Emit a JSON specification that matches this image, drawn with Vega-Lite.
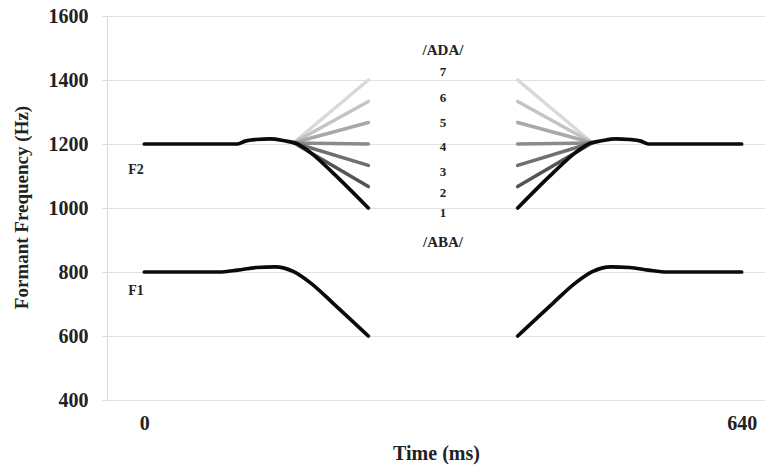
{
  "$schema": "https://vega.github.io/schema/vega-lite/v6.json",
  "autosize": {"type": "none"},
  "padding": {"left": 107, "top": 16, "right": 0, "bottom": 68},
  "width": 658,
  "height": 384,
  "config": {
    "view": {"stroke": null},
    "font": "Liberation Serif",
    "text": {"font": "Liberation Serif", "fontWeight": "bold", "color": "#222"}
  },
  "datasets": {
    "lines": [
      {"s":"F2","k":"7","g":"L","t":160,"f":1204},{"s":"F2","k":"7","g":"L","t":240,"f":1400},
      {"s":"F2","k":"7","g":"R","t":480,"f":1204},{"s":"F2","k":"7","g":"R","t":400,"f":1400},
      {"s":"F2","k":"6","g":"L","t":160,"f":1204},{"s":"F2","k":"6","g":"L","t":240,"f":1333},
      {"s":"F2","k":"6","g":"R","t":480,"f":1204},{"s":"F2","k":"6","g":"R","t":400,"f":1333},
      {"s":"F2","k":"5","g":"L","t":160,"f":1204},{"s":"F2","k":"5","g":"L","t":240,"f":1267},
      {"s":"F2","k":"5","g":"R","t":480,"f":1204},{"s":"F2","k":"5","g":"R","t":400,"f":1267},
      {"s":"F2","k":"4","g":"L","t":160,"f":1203},{"s":"F2","k":"4","g":"L","t":240,"f":1200},
      {"s":"F2","k":"4","g":"R","t":480,"f":1203},{"s":"F2","k":"4","g":"R","t":400,"f":1200},
      {"s":"F2","k":"3","g":"L","t":160,"f":1204},{"s":"F2","k":"3","g":"L","t":240,"f":1133},
      {"s":"F2","k":"3","g":"R","t":480,"f":1204},{"s":"F2","k":"3","g":"R","t":400,"f":1133},
      {"s":"F2","k":"2","g":"L","t":160,"f":1204},{"s":"F2","k":"2","g":"L","t":240,"f":1067},
      {"s":"F2","k":"2","g":"R","t":480,"f":1204},{"s":"F2","k":"2","g":"R","t":400,"f":1067},
      {"s":"F2","k":"1","g":"L","t":0,"f":1200},{"s":"F2","k":"1","g":"L","t":100,"f":1200},{"s":"F2","k":"1","g":"L","t":108,"f":1209},{"s":"F2","k":"1","g":"L","t":120,"f":1214},{"s":"F2","k":"1","g":"L","t":135,"f":1216},{"s":"F2","k":"1","g":"L","t":150,"f":1210},{"s":"F2","k":"1","g":"L","t":163,"f":1202},{"s":"F2","k":"1","g":"L","t":178,"f":1173},{"s":"F2","k":"1","g":"L","t":202,"f":1110},{"s":"F2","k":"1","g":"L","t":240,"f":1000},
      {"s":"F2","k":"1","g":"R","t":640,"f":1200},{"s":"F2","k":"1","g":"R","t":540,"f":1200},{"s":"F2","k":"1","g":"R","t":532,"f":1209},{"s":"F2","k":"1","g":"R","t":520,"f":1214},{"s":"F2","k":"1","g":"R","t":505,"f":1216},{"s":"F2","k":"1","g":"R","t":490,"f":1210},{"s":"F2","k":"1","g":"R","t":477,"f":1202},{"s":"F2","k":"1","g":"R","t":462,"f":1173},{"s":"F2","k":"1","g":"R","t":438,"f":1110},{"s":"F2","k":"1","g":"R","t":400,"f":1000},
      {"s":"F1","k":"1","g":"L","t":0,"f":800},{"s":"F1","k":"1","g":"L","t":80,"f":800},{"s":"F1","k":"1","g":"L","t":100,"f":806},{"s":"F1","k":"1","g":"L","t":120,"f":814},{"s":"F1","k":"1","g":"L","t":140,"f":816},{"s":"F1","k":"1","g":"L","t":150,"f":812},{"s":"F1","k":"1","g":"L","t":160,"f":801},{"s":"F1","k":"1","g":"L","t":178,"f":766},{"s":"F1","k":"1","g":"L","t":202,"f":703},{"s":"F1","k":"1","g":"L","t":240,"f":600},
      {"s":"F1","k":"1","g":"R","t":640,"f":800},{"s":"F1","k":"1","g":"R","t":560,"f":800},{"s":"F1","k":"1","g":"R","t":540,"f":806},{"s":"F1","k":"1","g":"R","t":520,"f":814},{"s":"F1","k":"1","g":"R","t":500,"f":816},{"s":"F1","k":"1","g":"R","t":490,"f":812},{"s":"F1","k":"1","g":"R","t":480,"f":801},{"s":"F1","k":"1","g":"R","t":462,"f":766},{"s":"F1","k":"1","g":"R","t":438,"f":703},{"s":"F1","k":"1","g":"R","t":400,"f":600}
    ],
    "labels": [
      {"txt":"F2","t":-9,"f":1119,"kind":"f"},
      {"txt":"F1","t":-9,"f":742,"kind":"f"},
      {"txt":"/ADA/","t":320,"f":1494,"kind":"v"},
      {"txt":"/ABA/","t":320,"f":895,"kind":"v"},
      {"txt":"7","t":320,"f":1426,"kind":"n"},
      {"txt":"6","t":320,"f":1343,"kind":"n"},
      {"txt":"5","t":320,"f":1267,"kind":"n"},
      {"txt":"4","t":320,"f":1192,"kind":"n"},
      {"txt":"3","t":320,"f":1113,"kind":"n"},
      {"txt":"2","t":320,"f":1046,"kind":"n"},
      {"txt":"1","t":320,"f":983,"kind":"n"}
    ]
  },
  "encoding": {
    "x": {
      "field": "t", "type": "quantitative",
      "scale": {"domain": [-40, 665], "nice": false, "zero": false},
      "axis": {
        "values": [0, 640], "format": "d", "grid": false, "domain": false, "ticks": false,
        "labelFont": "Liberation Serif", "labelFontWeight": "bold", "labelFontSize": 20, "labelColor": "#222",
        "labelPadding": 13,
        "title": "Time (ms)", "titleFont": "Liberation Serif", "titleFontWeight": "bold", "titleFontSize": 20, "titleColor": "#222",
        "titleY": 53, "titleBaseline": "middle"
      }
    },
    "y": {
      "field": "f", "type": "quantitative",
      "scale": {"domain": [400, 1600], "nice": false, "zero": false},
      "axis": {
        "values": [400, 600, 800, 1000, 1200, 1400, 1600], "format": "d",
        "grid": true, "gridColor": "#e2e2e2", "gridWidth": 1,
        "domain": true, "domainColor": "#dadada", "domainWidth": 1,
        "ticks": true, "tickSize": 5, "tickColor": "#dadada",
        "labelFont": "Liberation Serif", "labelFontWeight": "bold", "labelFontSize": 20, "labelColor": "#222",
        "labelPadding": 14,
        "title": "Formant Frequency (Hz)", "titleFont": "Liberation Serif", "titleFontWeight": "bold", "titleFontSize": 19, "titleColor": "#222",
        "titleX": -86, "titleY": 191, "titleAngle": -90, "titleAlign": "center", "titleBaseline": "middle"
      }
    }
  },
  "layer": [
    {
      "data": {"name": "lines"},
      "transform": [{"filter": "datum.k != '1'"}],
      "mark": {"type": "line", "interpolate": "linear", "strokeWidth": 3.5, "strokeCap": "round"},
      "encoding": {
        "color": {
          "field": "k", "type": "nominal", "legend": null,
          "scale": {"domain": ["7", "6", "5", "4", "3", "2"], "range": ["#d9d9d9", "#c4c4c4", "#a9a9a9", "#8a8a8a", "#6f6f6f", "#545454"]}
        },
        "detail": [{"field": "g"}, {"field": "k"}]
      }
    },
    {
      "data": {"name": "lines"},
      "transform": [{"filter": "datum.k == '1'"}],
      "mark": {"type": "line", "interpolate": "monotone", "strokeWidth": 3.7, "strokeCap": "round", "color": "#0a0a0a"},
      "encoding": {
        "detail": [{"field": "g"}, {"field": "s"}]
      }
    },
    {
      "data": {"name": "labels"},
      "transform": [{"filter": "datum.kind == 'f'"}],
      "mark": {"type": "text", "fontSize": 14, "align": "center", "baseline": "middle"},
      "encoding": {"text": {"field": "txt"}}
    },
    {
      "data": {"name": "labels"},
      "transform": [{"filter": "datum.kind == 'v'"}],
      "mark": {"type": "text", "fontSize": 15, "align": "center", "baseline": "middle"},
      "encoding": {"text": {"field": "txt"}}
    },
    {
      "data": {"name": "labels"},
      "transform": [{"filter": "datum.kind == 'n'"}],
      "mark": {"type": "text", "fontSize": 13, "align": "center", "baseline": "middle"},
      "encoding": {"text": {"field": "txt"}}
    }
  ]
}
